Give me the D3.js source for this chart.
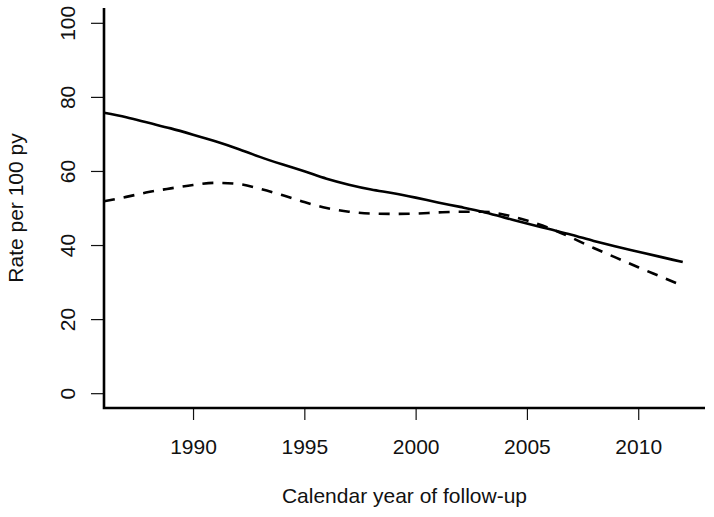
<!DOCTYPE html>
<html>
<head>
<meta charset="utf-8">
<script src="https://cdn.jsdelivr.net/npm/d3@7"></script>
<style>
  body { margin: 0; background: #fff; }
  svg { display: block; }
  text { font-family: "Liberation Sans", Arial, Helvetica, sans-serif; fill: #111; }
</style>
</head>
<body>
<svg id="chart" width="714" height="517"></svg>
<script>
// yearly values
var years = [1986, 1987, 1988, 1989, 1990, 1991, 1992, 1993, 1994, 1995, 1996, 1997, 1998, 1999,
             2000, 2001, 2002, 2003, 2004, 2005, 2006, 2007, 2008, 2009, 2010, 2011, 2012];
var solidRate = [75.7, 74.5, 73.0, 71.5, 69.8, 68.0, 66.0, 63.8, 61.8, 59.9, 57.9, 56.3, 55.0, 54.0,
                 52.8, 51.5, 50.3, 49.0, 47.4, 45.8, 44.3, 42.8, 41.1, 39.6, 38.2, 36.8, 35.4];
var dashedRate = [51.8, 53.0, 54.3, 55.3, 56.2, 56.8, 56.5, 55.2, 53.5, 51.6, 50.0, 49.0, 48.5, 48.4,
                  48.5, 48.8, 49.0, 49.0, 48.2, 46.6, 44.6, 42.0, 39.2, 36.6, 34.0, 31.5, 29.0];
var xTicks = [1990, 1995, 2000, 2005, 2010];
var yTicks = [0, 20, 40, 60, 80, 100];

var svg = d3.select("#chart");

var x = d3.scaleLinear().domain([1986, 2013]).range([104, 705]);
var y = d3.scaleLinear().domain([-4, 104]).range([408, 8]);

var line = function(vals) {
  return d3.line()
    .x(function(d, i) { return x(years[i]); })
    .y(function(d) { return y(d); })
    .curve(d3.curveMonotoneX)(vals);
};

// Draw lines
svg.append("path")
  .attr("d", line(solidRate))
  .attr("fill", "none")
  .attr("stroke", "#000")
  .attr("stroke-width", 2.6);

svg.append("path")
  .attr("d", line(dashedRate))
  .attr("fill", "none")
  .attr("stroke", "#000")
  .attr("stroke-width", 2.6)
  .attr("stroke-dasharray", "11,9");

// Draw axes
var gx = svg.append("g")
  .attr("transform", "translate(0," + y.range()[0] + ")")
  .call(d3.axisBottom(x).tickValues(xTicks).tickSize(12).tickFormat(d3.format("d")));
gx.select(".domain").remove();
gx.selectAll(".tick line").attr("stroke", "#111").attr("stroke-width", 1.2);
gx.selectAll(".tick text")
  .attr("y", 46).attr("dy", null)
  .style("font-size", "21px")
  .attr("fill", "#111");

var gy = svg.append("g")
  .attr("transform", "translate(" + x.range()[0] + ",0)")
  .call(d3.axisLeft(y).tickValues(yTicks).tickSize(13));
gy.select(".domain").remove();
gy.selectAll(".tick line").attr("stroke", "#111").attr("stroke-width", 1.2);
gy.selectAll(".tick text")
  .attr("transform", "rotate(-90)")
  .attr("x", 0).attr("y", -29).attr("dy", null)
  .attr("text-anchor", "middle")
  .style("font-size", "21px")
  .attr("fill", "#111");

// L-shaped box
svg.append("path")
  .attr("d", "M" + x.range()[0] + "," + y.range()[1] +
             "V" + y.range()[0] + "H" + x.range()[1])
  .attr("fill", "none")
  .attr("stroke", "#000")
  .attr("stroke-width", 2.6);

// Axis titles
svg.append("text")
  .attr("x", (x.range()[0] + x.range()[1]) / 2)
  .attr("y", 503)
  .attr("text-anchor", "middle")
  .style("font-size", "21px")
  .text("Calendar year of follow-up");

svg.append("text")
  .attr("transform", "translate(23," + (y.range()[0] + y.range()[1]) / 2 + ") rotate(-90)")
  .attr("text-anchor", "middle")
  .style("font-size", "21px")
  .text("Rate per 100 py");
</script>
</body>
</html>
